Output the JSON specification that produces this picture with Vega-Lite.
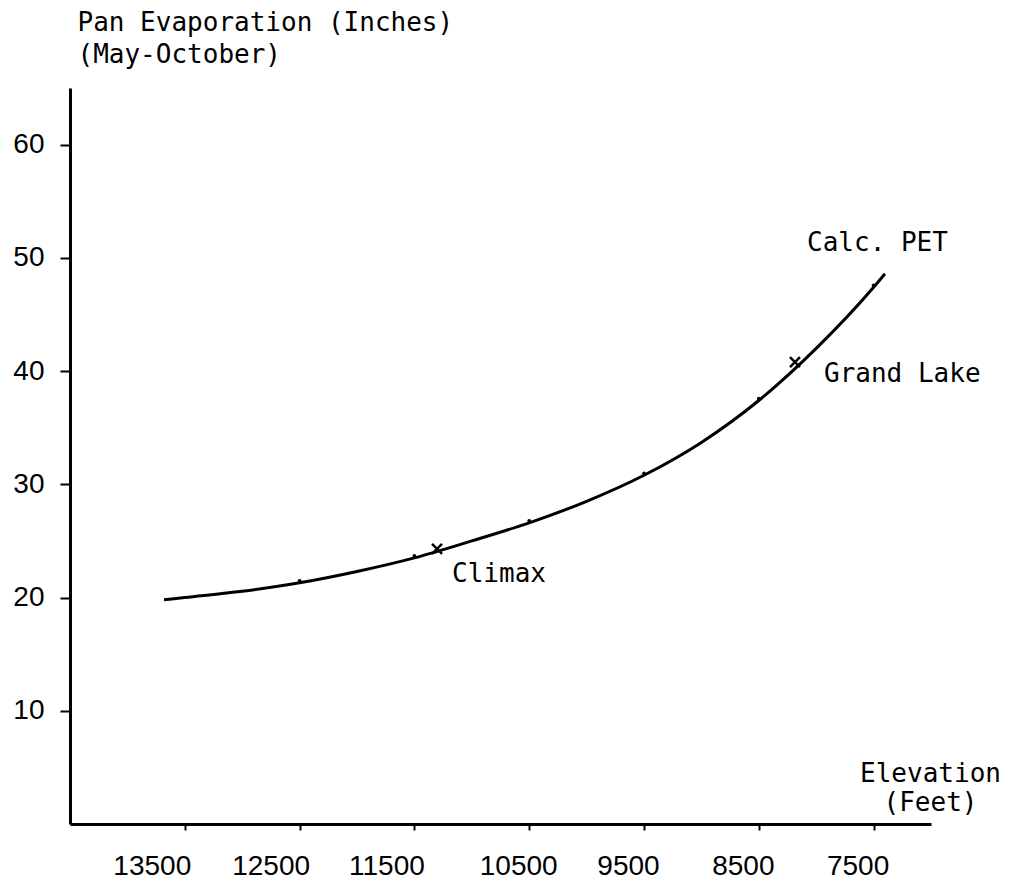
{
  "$schema": "https://vega.github.io/schema/vega-lite/v6.json",
  "width": 861,
  "height": 736,
  "autosize": {"type": "none"},
  "padding": {"left": 70, "top": 88, "right": 80, "bottom": 57},
  "background": "white",
  "config": {
    "view": {"stroke": null},
    "axis": {
      "grid": false,
      "domainColor": "black",
      "domainWidth": 3,
      "tickColor": "black",
      "tickWidth": 2,
      "labelColor": "black",
      "labelFont": "Liberation Sans",
      "labelFontSize": 28,
      "titleColor": "black",
      "titleFont": "DejaVu Sans Mono",
      "titleFontSize": 26,
      "titleFontWeight": "normal",
      "labelOverlap": false,
      "labelFlush": false
    }
  },
  "data": {
    "values": [
      {"kind": "curve", "elev": 13681, "pe": 19.8},
      {"kind": "curve", "elev": 13500, "pe": 20.0},
      {"kind": "curve", "elev": 13000, "pe": 20.55},
      {"kind": "curve", "elev": 12500, "pe": 21.3},
      {"kind": "curve", "elev": 12000, "pe": 22.3},
      {"kind": "curve", "elev": 11500, "pe": 23.5},
      {"kind": "curve", "elev": 11000, "pe": 25.0},
      {"kind": "curve", "elev": 10500, "pe": 26.6},
      {"kind": "curve", "elev": 10000, "pe": 28.5},
      {"kind": "curve", "elev": 9500, "pe": 30.8},
      {"kind": "curve", "elev": 9000, "pe": 33.7},
      {"kind": "curve", "elev": 8500, "pe": 37.4},
      {"kind": "curve", "elev": 8000, "pe": 42.0},
      {"kind": "curve", "elev": 7500, "pe": 47.4},
      {"kind": "curve", "elev": 7401, "pe": 48.6},
      {"kind": "calc", "elev": 12500, "pe": 21.3},
      {"kind": "calc", "elev": 11500, "pe": 23.5},
      {"kind": "calc", "elev": 10500, "pe": 26.6},
      {"kind": "calc", "elev": 9500, "pe": 30.8},
      {"kind": "calc", "elev": 8500, "pe": 37.4},
      {"kind": "calc", "elev": 7500, "pe": 47.4},
      {"kind": "obs", "elev": 11303, "pe": 24.3},
      {"kind": "obs", "elev": 8185, "pe": 40.8},
      {"kind": "label", "elev": 11172, "pe": 21.4, "text": "Climax"},
      {"kind": "label", "elev": 7932, "pe": 39.0, "text": "Grand Lake"},
      {"kind": "label", "elev": 8080, "pe": 50.6, "text": "Calc. PET"}
    ]
  },
  "encoding": {
    "x": {
      "field": "elev",
      "type": "quantitative",
      "scale": {"domain": [7000, 14500], "reverse": true, "nice": false, "zero": false},
      "axis": {
        "values": [13500, 12500, 11500, 10500, 9500, 8500, 7500],
        "format": "d",
        "tickSize": 6,
        "labelPadding": 22,
        "labelOffset": {"expr": "datum.value == 13500 ? -33 : datum.value == 12500 ? -29 : datum.value == 11500 ? -28 : datum.value == 10500 ? -11 : -16"},
        "title": ["Elevation", "(Feet)"],
        "titleX": 860,
        "titleY": -43,
        "titleAlign": "center",
        "titleBaseline": "alphabetic",
        "titleAngle": 0,
        "titleLineHeight": 29
      }
    },
    "y": {
      "field": "pe",
      "type": "quantitative",
      "scale": {"domain": [0, 65], "nice": false, "zero": true},
      "axis": {
        "values": [10, 20, 30, 40, 50, 60],
        "tickSize": 10,
        "labelPadding": 16,
        "title": ["Pan Evaporation (Inches)", "(May-October)"],
        "titleX": 7,
        "titleY": -58,
        "titleAlign": "left",
        "titleBaseline": "alphabetic",
        "titleAngle": 0,
        "titleLineHeight": 32
      }
    }
  },
  "layer": [
    {
      "transform": [{"filter": "datum.kind === 'curve'"}],
      "mark": {"type": "line", "interpolate": "monotone", "color": "black", "strokeWidth": 3}
    },
    {
      "transform": [{"filter": "datum.kind === 'calc'"}],
      "mark": {"type": "point", "filled": true, "color": "black", "size": 14, "yOffset": -2, "opacity": 1}
    },
    {
      "transform": [{"filter": "datum.kind === 'obs'"}],
      "mark": {"type": "point", "shape": "M-1,-1L1,1M-1,1L1,-1", "filled": false, "color": "black", "strokeWidth": 2.5, "size": 100, "opacity": 1}
    },
    {
      "transform": [{"filter": "datum.kind === 'label'"}],
      "mark": {"type": "text", "align": "left", "baseline": "alphabetic", "font": "DejaVu Sans Mono", "fontSize": 26, "color": "black"},
      "encoding": {"text": {"field": "text"}}
    }
  ]
}
